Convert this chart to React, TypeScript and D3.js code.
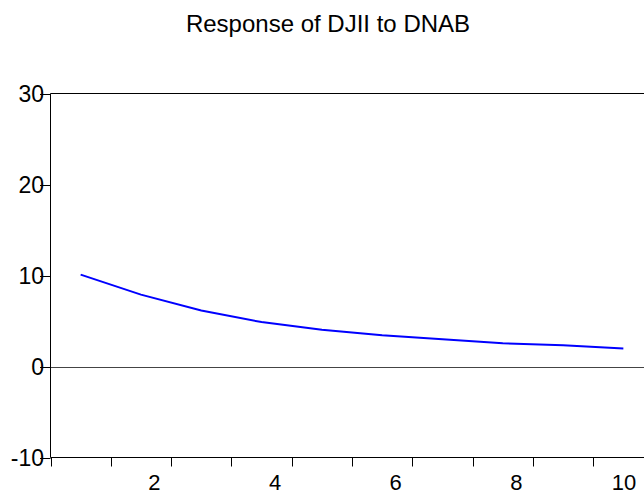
import React from "react";
import * as d3 from "d3";

// impulse response values, periods 1..10
const periods = [1, 2, 3, 4, 5, 6, 7, 8, 9, 10];
const response = [10.1, 7.9, 6.15, 4.88, 4.03, 3.44, 3.0, 2.56, 2.34, 1.98];
const yTicks = [-10, 0, 10, 20, 30];
const xLabels = [2, 4, 6, 8, 10];
const title = "Response of DJII to DNAB";

const width = 644;
const height = 495;
const font = "Arial, 'Liberation Sans', Helvetica, sans-serif";

export default function App() {
  const xScale = d3.scaleLinear().domain([0.5, 10.5]).range([50.5, 653.5]);
  const yScale = d3.scaleLinear().domain([-10, 30]).range([457.5, 93.5]);

  const line = d3
    .line<number>()
    .x((d, i) => xScale(periods[i]))
    .y((d) => yScale(d));

  const tickPos = periods.map((p) => p - 0.5);
  const left = xScale(0.5);
  const right = xScale(10.5);
  const top = yScale(30);
  const bottom = yScale(-10);
  const zeroY = Math.round(yScale(0)) + 0.5;

  return (
    <svg
      width={width}
      height={height}
      style={{ position: "absolute", left: 0, top: 0, overflow: "hidden" }}
      fontFamily={font}
    >
      <rect width={width} height={height} fill="#fff" />
      <text x={328} y={32} textAnchor="middle" fontSize={24} fill="#000">
        {title}
      </text>

      {/* zero line */}
      <line x1={left} x2={right} y1={zeroY} y2={zeroY} stroke="#444" strokeWidth={1} />

      {/* frame (right side runs past the window) */}
      <line x1={left} x2={right} y1={top} y2={top} stroke="#000" />
      <line x1={left} x2={right} y1={bottom} y2={bottom} stroke="#000" />
      <line x1={left} x2={left} y1={top} y2={bottom} stroke="#000" />
      <line x1={right} x2={right} y1={top} y2={bottom} stroke="#000" />

      {/* y axis */}
      {yTicks.map((t) => (
        <g key={t}>
          <line x1={40} x2={left} y1={Math.round(yScale(t)) + 0.5} y2={Math.round(yScale(t)) + 0.5} stroke="#000" />
          <text x={44} y={yScale(t)} dy="0.36em" textAnchor="end" fontSize={23} fill="#000">
            {t}
          </text>
        </g>
      ))}

      {/* x axis ticks between periods */}
      {tickPos.map((t) => (
        <line key={t} x1={Math.round(xScale(t)) + 0.5} x2={Math.round(xScale(t)) + 0.5} y1={bottom} y2={bottom + 9} stroke="#000" />
      ))}
      {xLabels.map((k) => (
        <text
          key={k}
          x={Math.min(xScale(k) + 13.5, 624)}
          y={490}
          textAnchor="middle"
          fontSize={22}
          fill="#000"
        >
          {k}
        </text>
      ))}

      <path d={line(response) || ""} fill="none" stroke="#0000ff" strokeWidth={2} />
    </svg>
  );
}
